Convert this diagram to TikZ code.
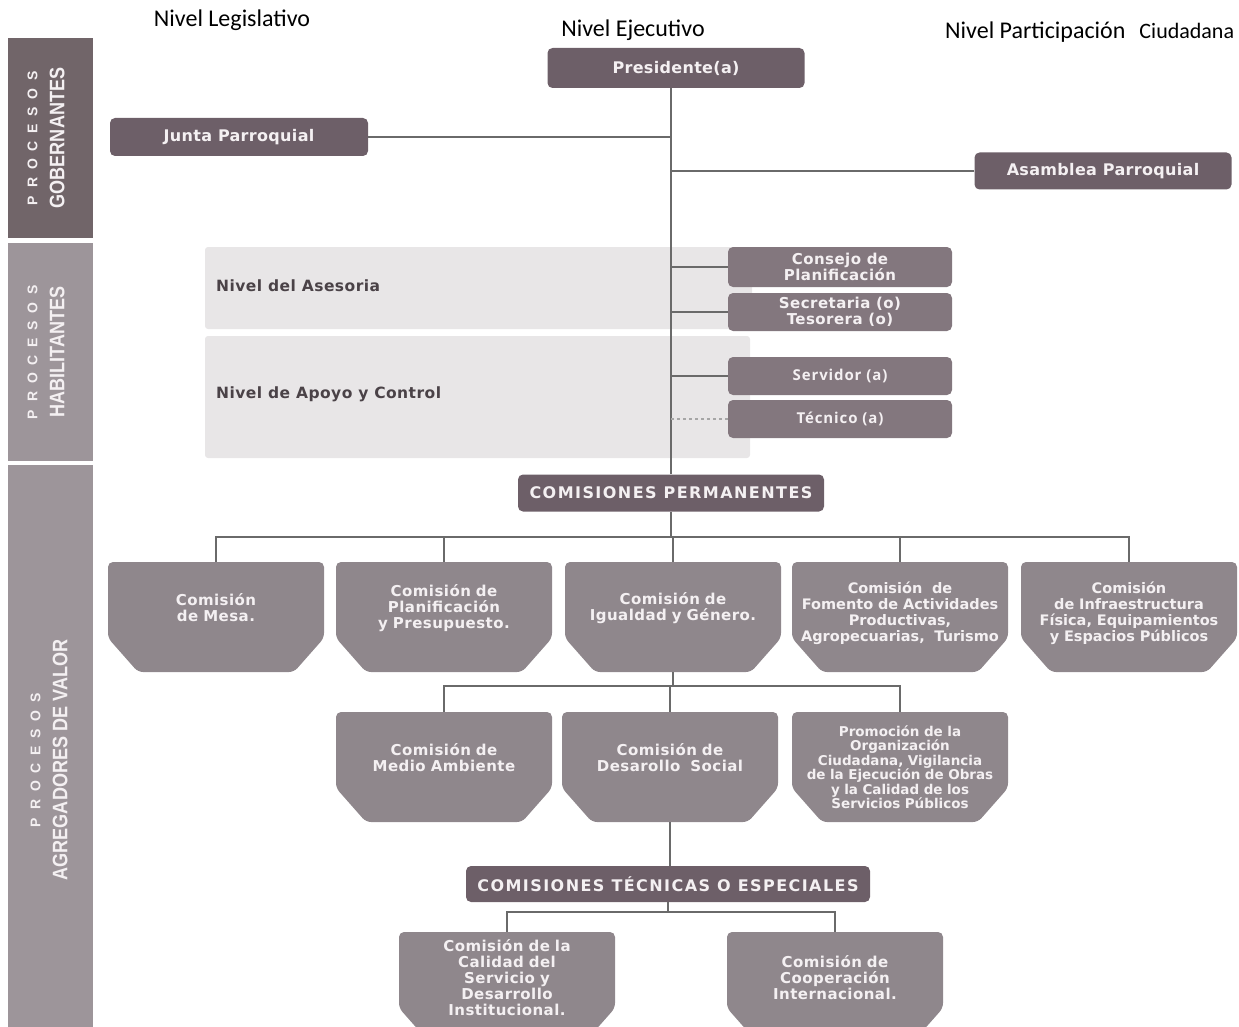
\documentclass[tikz,border=0pt]{standalone}
\usepackage{fontspec}
\setmainfont{Carlito}
\newfontfamily\boxfont[LetterSpace=2]{DejaVu Sans}
\newfontfamily\capsfont[LetterSpace=9]{DejaVu Sans}
\newfontfamily\comfont[LetterSpace=3]{DejaVu Sans}
\newfontfamily\comfontn{DejaVu Sans}
\newfontfamily\servfont[LetterSpace=6]{Open Sans}
\newfontfamily\sidefont[FakeStretch=0.86]{Liberation Sans}
\newfontfamily\procfont[LetterSpace=28]{Liberation Sans}

\definecolor{darkbox}{HTML}{6D5F68}
\definecolor{midbox}{HTML}{83777E}
\definecolor{combox}{HTML}{8F878C}
\definecolor{sidedark}{HTML}{716569}
\definecolor{sidelight}{HTML}{9D959A}
\definecolor{panel}{HTML}{E8E6E7}
\definecolor{wire}{HTML}{6A6A6A}
\definecolor{boxtext}{HTML}{F4F0F2}
\definecolor{paneltext}{HTML}{4A4247}

\def\comliftamount{18pt}

\begin{document}
\begin{tikzpicture}[x=1pt,y=-1pt,
  topbox/.style={fill=darkbox,rounded corners=5pt,text=boxtext,inner sep=0pt,
    font=\boxfont\bfseries\fontsize{16}{19}\selectfont},
  capsbox/.style={topbox,font=\capsfont\bfseries\fontsize{16}{19}\selectfont},
  levelbox/.style={fill=midbox,rounded corners=5pt,text=boxtext,inner sep=0pt,
    minimum width=224pt,align=center,font=\comfont\bfseries\fontsize{15}{16}\selectfont},
  lift/.code={\def\comliftamount{#1}},
  comision/.style={minimum width=216pt,minimum height=110pt,text width=214pt,align=center,
    inner sep=0pt,text=boxtext,fill=white,
    font=\comfont\bfseries\fontsize{15}{16}\selectfont,
    execute at end node={\endgraf\vspace*{\comliftamount}},
    path picture={\fill[combox,rounded corners=5pt]
      ([yshift=34pt]path picture bounding box.south west) -- (path picture bounding box.north west)
      -- (path picture bounding box.north east) -- ([yshift=34pt]path picture bounding box.south east)
      -- ([xshift=-30pt]path picture bounding box.south east) -- ([xshift=30pt]path picture bounding box.south west) -- cycle;}},
  dense/.style={font=\comfontn\bfseries\fontsize{14.5}{16}\selectfont},
  panellabel/.style={anchor=west,text=paneltext,inner sep=0pt,font=\comfont\bfseries\fontsize{15.5}{16}\selectfont},
  sidelabel/.style={rotate=90,align=center,text=boxtext,inner sep=0pt,font=\fontsize{21}{27}\selectfont},
  heading/.style={font=\fontsize{24}{28}\selectfont},
  conn/.style={draw=wire,line width=1.1pt}]
\useasboundingbox (0,0) rectangle (1239,1027);

% headings
\node[heading] (hleg) at (232,20) {Nivel Legislativo};
\node[heading] (hejec) at (633,30) {Nivel Ejecutivo};
\node[heading,anchor=west,inner sep=0pt] (hpart) at (945,32)
  {Nivel Participación\hspace{14pt}{\fontsize{22}{26}\selectfont Ciudadana}};

% side bands
\fill[sidedark] (8,38) rectangle (93,238);
\fill[sidelight] (8,243) rectangle (93,461);
\fill[sidelight] (8,465) rectangle (93,1027);
\node[sidelabel] (sgob) at (46,138) {\procfont\bfseries\fontsize{14}{27}\selectfont P R O C E S O S\\
  \sidefont\bfseries\fontsize{21}{27}\selectfont GOBERNANTES};
\node[sidelabel] (shab) at (46,352) {\procfont\bfseries\fontsize{14}{27}\selectfont P R O C E S O S\\
  \sidefont\bfseries\fontsize{21}{27}\selectfont HABILITANTES};
\node[sidelabel] (sagr) at (49,760) {\procfont\bfseries\fontsize{14}{27}\selectfont P R O C E S O S\\
  \sidefont\bfseries\fontsize{21}{27}\selectfont AGREGADORES DE VALOR};

% panels
\fill[panel,rounded corners=3pt] (205,247) rectangle (752,329);
\fill[panel,rounded corners=3pt] (205,336) rectangle (750,458);
\node[panellabel] (ases) at (216,286) {Nivel del Asesoria};
\node[panellabel] (apoyo) at (216,394) {Nivel de Apoyo y Control};

% boxes
\node[topbox,minimum width=257pt,minimum height=40pt] (pres) at (676,68) {Presidente(a)};
\node[topbox,minimum width=258pt,minimum height=38pt] (junta) at (239,137) {Junta Parroquial};
\node[topbox,minimum width=257pt,minimum height=37pt] (asam) at (1103,171) {Asamblea Parroquial};
\node[levelbox,minimum height=40pt] (consejo) at (840,267) {Consejo de\\Planificación};
\node[levelbox,minimum height=38pt] (secre) at (840,312) {Secretaria (o)\\Tesorera (o)};
\node[levelbox,minimum height=38pt,font=\servfont\bfseries\fontsize{15}{16}\selectfont] (serv) at (840,376) {Servidor (a)};
\node[levelbox,minimum height=38pt,font=\servfont\bfseries\fontsize{15}{16}\selectfont] (tecn) at (840,419) {Técnico (a)};
\node[capsbox,minimum width=306pt,minimum height=37pt] (perm) at (671,493) {COMISIONES PERMANENTES};

\node[comision] (mesa) at (216,617) {Comisión\\de Mesa.};
\node[comision] (plan) at (444,617) {Comisión de\\Planificación\\y Presupuesto.};
\node[comision] (igual) at (673,617) {Comisión de\\Igualdad y Género.};
\node[comision,dense,lift=8pt] (fom) at (900,617) {Comisión~ de\\Fomento de Actividades\\Productivas,\\Agropecuarias,~ Turismo};
\node[comision,dense,lift=8pt] (infra) at (1129,617) {Comisión\\de Infraestructura\\Física, Equipamientos\\y Espacios Públicos};
\node[comision] (medio) at (444,767) {Comisión de\\Medio Ambiente};
\node[comision] (social) at (670,767) {Comisión de\\Desarollo~ Social};
\node[comision,lift=0pt,font=\comfontn\bfseries\fontsize{13.5}{14.5}\selectfont] (promo) at (900,767)
  {Promoción de la\\Organización\\Ciudadana, Vigilancia\\de la Ejecución de Obras\\y la Calidad de los\\Servicios Públicos};
\node[capsbox,minimum width=404pt,minimum height=36pt] (tecesp) at (668,884) {COMISIONES TÉCNICAS O ESPECIALES};
\node[comision] (calidad) at (507,987) {Comisión de la\\Calidad del\\Servicio y\\Desarrollo\\Institucional.};
\node[comision] (coop) at (835,987) {Comisión de\\Cooperación\\Internacional.};

\coordinate (bus1) at (0,537);
\coordinate (bus2) at (0,686);
\coordinate (bus3) at (0,912);

% connectors
\draw[conn] (pres.south -| perm.north) -- (perm.north);
\draw[conn] (junta.east) -- (junta.east -| perm.north);
\draw[conn] (asam.west) -- (asam.west -| perm.north);
\draw[conn] (consejo.west) -- (consejo.west -| perm.north);
\draw[conn] (secre.west) -- (secre.west -| perm.north);
\draw[conn] (serv.west) -- (serv.west -| perm.north);
\draw[conn,dashed,draw=wire!60] (tecn.west) -- (tecn.west -| perm.north);
\draw[conn] (perm.south) -- (perm.south |- bus1);
\draw[conn] (mesa.north) -- (mesa.north |- bus1) -- (infra.north |- bus1) -- (infra.north);
\draw[conn] (plan.north) -- (plan.north |- bus1);
\draw[conn] (igual.north) -- (igual.north |- bus1);
\draw[conn] (fom.north) -- (fom.north |- bus1);
\draw[conn] (igual.south) -- (igual.south |- bus2);
\draw[conn] (medio.north) -- (medio.north |- bus2) -- (promo.north |- bus2) -- (promo.north);
\draw[conn] (social.north) -- (social.north |- bus2);
\draw[conn] (social.south) -- (tecesp.north -| social.south);
\draw[conn] (tecesp.south) -- (tecesp.south |- bus3);
\draw[conn] (calidad.north) -- (calidad.north |- bus3) -- (coop.north |- bus3) -- (coop.north);
\end{tikzpicture}
\end{document}
